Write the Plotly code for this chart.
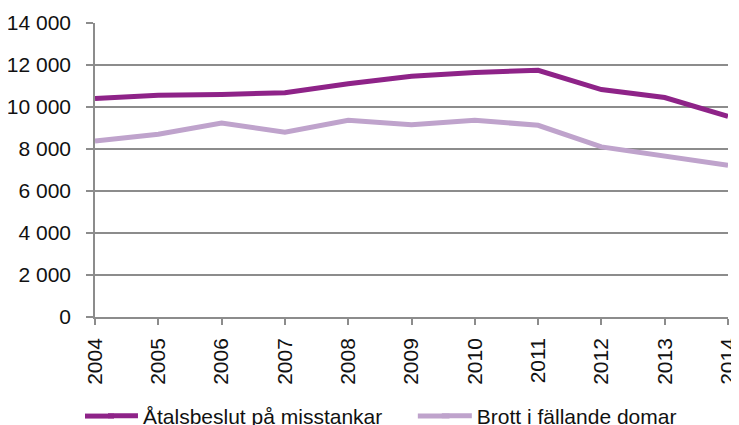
import plotly.graph_objects as go

years = [2004, 2005, 2006, 2007, 2008, 2009, 2010, 2011, 2012, 2013, 2014]
atalsbeslut = [10400, 10560, 10600, 10680, 11110, 11460, 11640, 11750, 10830, 10450, 9560]
brott = [8380, 8700, 9240, 8800, 9370, 9160, 9370, 9130, 8100, 7650, 7220]
series_names = ["Åtalsbeslut på misstankar", "Brott i fällande domar"]
series_colors = ["#8E2388", "#BFA3CC"]
y_ticks = [0, 2000, 4000, 6000, 8000, 10000, 12000, 14000]

fig = go.Figure()
fig.add_trace(go.Scatter(x=years, y=atalsbeslut, mode="lines", name=series_names[0],
                         line=dict(color=series_colors[0], width=5), legend="legend"))
fig.add_trace(go.Scatter(x=years, y=brott, mode="lines", name=series_names[1],
                         line=dict(color=series_colors[1], width=5), legend="legend2"))

font = dict(family="Liberation Sans, Arial, sans-serif", size=21, color="#111111")
leg_y = -0.337
leg_common = dict(orientation="h", xanchor="left", xref="paper",
                  yanchor="middle", yref="paper", y=leg_y,
                  font=font, bgcolor="rgba(0,0,0,0)")

# longer legend key lines (extend the built-in 30px symbol to the left)
for (x0, x1), col in zip([(-0.0158, 0.03), (0.510, 0.56)], series_colors):
    fig.add_shape(type="line", xref="paper", yref="paper", x0=x0, x1=x1, y0=leg_y, y1=leg_y,
                  line=dict(color=col, width=5), layer="above")

fig.update_layout(
    width=731, height=417,
    margin=dict(l=87, r=11, t=15, b=108, autoexpand=False),
    paper_bgcolor="white", plot_bgcolor="white",
    font=font,
    separators=", ",
    showlegend=True,
    legend=dict(x=0.0126, **leg_common),
    legend2=dict(x=0.540, **leg_common),
    xaxis=dict(range=[2004, 2014], tickvals=years, ticktext=[str(y) for y in years],
               tickangle=-90, showgrid=False, showline=True, linecolor="#8c8c8c", linewidth=1.5,
               ticks="outside", ticklen=6, tickcolor="#8c8c8c", tickwidth=1.5, zeroline=False,
               automargin=False, ticklabelstandoff=5),
    yaxis=dict(range=[0, 14000], tickvals=y_ticks, tickformat=",d",
               showgrid=True, gridcolor="#8c8c8c", gridwidth=1.5,
               showline=True, linecolor="#8c8c8c", linewidth=1.5,
               ticks="outside", ticklen=7, tickcolor="#8c8c8c", tickwidth=1.5,
               zeroline=False, ticklabelstandoff=11, automargin=False),
)
fig.write_html("out.html")
